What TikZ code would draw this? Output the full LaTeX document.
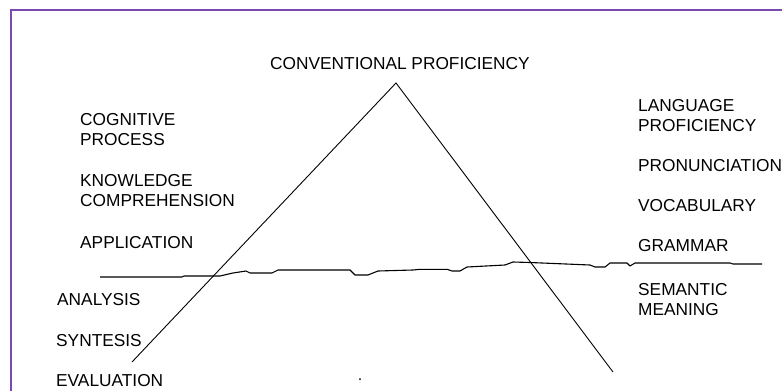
\documentclass[tikz,border=0pt]{standalone}
\usepackage{fontspec}
\setmainfont{Liberation Sans}
\usepackage{tikz}
\usetikzlibrary{calc}

\definecolor{framepurple}{RGB}{122,74,178}

\begin{document}
\begin{tikzpicture}[x=1pt, y=-1pt,
    lbl/.style={anchor=west, inner sep=0pt, align=left,
      font=\fontsize{17.3}{20}\selectfont}]
  \useasboundingbox (0,0) rectangle (782,391);
  \fill[white] (0,0) rectangle (782,391);
  % frame
  \draw[framepurple, line width=2pt] (11,391) -- (11,10) -- (782,10);
  % triangle
  \coordinate (apex) at (396,83);
  \coordinate (lfoot) at (132,362);
  \coordinate (rfoot) at (613,372);
  \draw[line width=0.9pt] (lfoot) -- (apex) -- (rfoot);
  % the rough dividing line
  \draw[line width=1.1pt, line join=round] plot coordinates {
    (100,277) (182,277) (184,276) (220,276) (233,273) (246,271) (250,273)
    (272,273) (278,270) (350,270) (355,275) (368,275) (378,271) (413,270)
    (420,269.3) (447,269.3) (452,271) (460,271) (467,267) (505,265)
    (513,262) (530,262.5) (590,265) (595,267) (605,267) (610,263)
    (627,263) (630,266) (635,263) (730,263) (733,264) (762,264)};
  \fill (360,379) circle (1pt);
  % labels
  \node[lbl] (conv) at (270,64) {CONVENTIONAL PROFICIENCY};
  \node[lbl] (cogn) at (80,130) {COGNITIVE\\PROCESS};
  \node[lbl] (know) at (80,191) {KNOWLEDGE\\COMPREHENSION};
  \node[lbl] (appl) at (80,242.5) {APPLICATION};
  \node[lbl] (anal) at (57,300) {ANALYSIS};
  \node[lbl] (synt) at (56,341) {SYNTESIS};
  \node[lbl] (eval) at (56,381) {EVALUATION};
  \node[lbl] (lang) at (638,116) {LANGUAGE\\PROFICIENCY};
  \node[lbl] (pron) at (638,166) {PRONUNCIATION};
  \node[lbl] (voca) at (638,206) {VOCABULARY};
  \node[lbl] (gram) at (638,246) {GRAMMAR};
  \node[lbl] (sema) at (638,299.5) {SEMANTIC\\MEANING};
\end{tikzpicture}
\end{document}
